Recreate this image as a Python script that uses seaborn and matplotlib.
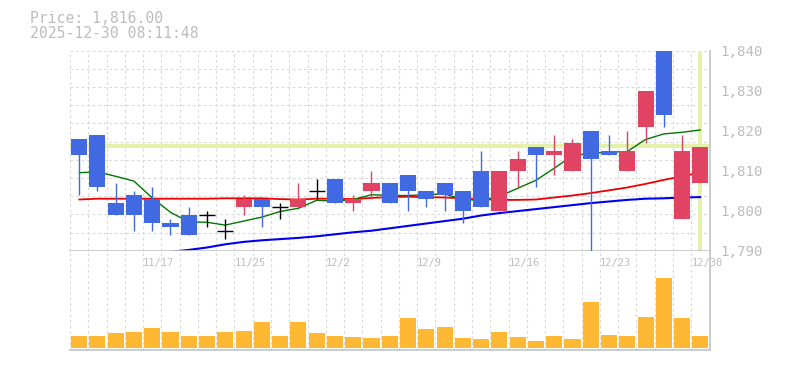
import numpy as np
import pandas as pd
import matplotlib
matplotlib.use("Agg")
import matplotlib.pyplot as plt
import seaborn as sns

# data (35 trading days, 11/11 .. 12/30)
dates = ['11/11', '11/12', '11/13', '11/14', '11/17', '11/18', '11/19', '11/20', '11/21',
         '11/25', '11/26', '11/27', '11/28', '12/1', '12/2', '12/3', '12/4', '12/5',
         '12/8', '12/9', '12/10', '12/11', '12/12', '12/15', '12/16', '12/17', '12/18',
         '12/19', '12/22', '12/23', '12/24', '12/25', '12/26', '12/29', '12/30']
opens = [1818, 1819, 1802, 1804, 1803, 1797, 1799, 1799, 1795, 1801, 1803, 1801, 1801, 1805,
         1808, 1802, 1805, 1807, 1809, 1805, 1807, 1805, 1810, 1800, 1810, 1816, 1814, 1810,
         1820, 1815, 1810, 1821, 1845, 1798, 1807]
highs = [1818, 1819, 1807, 1805, 1806, 1798, 1801, 1800, 1798, 1804, 1803, 1802, 1807, 1808,
         1808, 1804, 1810, 1807, 1809, 1805, 1807, 1805, 1815, 1810, 1815, 1816, 1819, 1818,
         1820, 1819, 1820, 1830, 1845, 1819, 1816]
lows = [1804, 1805, 1799, 1795, 1795, 1794, 1794, 1796, 1793, 1799, 1796, 1798, 1801, 1803,
        1802, 1800, 1803, 1802, 1800, 1801, 1800, 1797, 1801, 1800, 1806, 1806, 1809, 1810,
        1788, 1814, 1810, 1817, 1821, 1798, 1807]
closes = [1814, 1806, 1799, 1799, 1797, 1796, 1794, 1799, 1795, 1803, 1801, 1801, 1803, 1805,
          1802, 1803, 1807, 1802, 1805, 1803, 1804, 1800, 1801, 1810, 1813, 1814, 1815, 1817,
          1813, 1814, 1815, 1830, 1824, 1815, 1816]
volume = [36, 36, 45, 48, 60, 48, 36, 36, 48, 51, 78, 36, 78, 45, 36, 33, 30, 36,
          90, 57, 63, 30, 27, 48, 33, 21, 36, 27, 138, 39, 36, 93, 213, 90, 36]
ma5 = [1809.5, 1809.7, 1808.6, 1807.4, 1803.2, 1799.6, 1797.2, 1797.1, 1796.4, 1797.4,
       1798.4, 1799.8, 1800.6, 1802.6, 1802.4, 1802.8, 1804.0, 1803.8, 1803.8, 1804.0,
       1804.2, 1802.8, 1802.6, 1803.6, 1805.6, 1807.6, 1810.6, 1813.8, 1814.4, 1814.6,
       1814.8, 1817.8, 1819.2, 1819.6, 1820.2]
ma25 = [1802.8, 1803.0, 1803.0, 1803.0, 1803.0, 1803.0, 1803.0, 1803.0, 1803.1, 1803.1,
        1803.1, 1802.9, 1802.8, 1803.0, 1803.0, 1802.9, 1803.2, 1803.4, 1803.5, 1803.4,
        1803.3, 1803.1, 1802.9, 1802.7, 1802.7, 1802.8, 1803.3, 1803.8, 1804.4, 1805.1,
        1805.8, 1806.7, 1807.7, 1808.6, 1809.5]
ma75 = [np.nan, np.nan, np.nan, np.nan, np.nan, 1789.7, 1790.2, 1790.8, 1791.6, 1792.2,
        1792.6, 1792.9, 1793.2, 1793.6, 1794.1, 1794.6, 1795.0, 1795.6, 1796.2, 1796.8,
        1797.4, 1798.0, 1798.8, 1799.4, 1799.9, 1800.4, 1800.9, 1801.4, 1801.9, 1802.3,
        1802.7, 1803.0, 1803.1, 1803.3, 1803.4]
label_days = ['11/17', '11/25', '12/2', '12/9', '12/16', '12/23', '12/30']
price_now = 1816.3
price_text = 'Price: 1,816.00'
time_text = '2025-12-30 08:11:48'

df = pd.DataFrame({'date': dates, 'open': opens, 'high': highs, 'low': lows,
                   'close': closes, 'volume': volume, 'ma5': ma5, 'ma25': ma25, 'ma75': ma75})
df['x'] = np.arange(len(df))

sns.set_style('white')
plt.rcParams['font.family'] = ['DejaVu Sans Mono']

UP = '#e04462'
DOWN = '#4169e1'
GRID = '#d9d9d9'
TXT = '#bdbdbd'
HL = '#e3f2a8'

fig = plt.figure(figsize=(7.85, 3.70), dpi=100)
ax = fig.add_axes([70 / 785, 1 - 250.7 / 370, 639.5 / 785, 200 / 370])
axv = fig.add_axes([70 / 785, 1 - 350 / 370, 639.5 / 785, 99.3 / 370])

n = len(df)
xmin, xmax = -0.5, n - 0.5
ylo, yhi = 1790, 1840

# grid
for a in (ax, axv):
    for gx in np.arange(n) - 0.5:
        a.axvline(gx, color=GRID, lw=0.8, ls=(0, (2.5, 2.5)), zorder=0)
for gy in np.linspace(ylo, yhi, 12):
    ax.axhline(gy, color=GRID, lw=0.8, ls=(0, (2.5, 2.5)), zorder=0)

# current price / today markers
ax.axhline(price_now, color=HL, lw=2.8, zorder=1)
ax.axvline(n - 1, color=HL, lw=2.8, zorder=1)

# moving averages
sns.lineplot(data=df, x='x', y='ma75', ax=ax, color='#0000ee', lw=1.5, zorder=2)
sns.lineplot(data=df, x='x', y='ma25', ax=ax, color='#ee0000', lw=1.3, zorder=2)
sns.lineplot(data=df, x='x', y='ma5', ax=ax, color='#007700', lw=1.0, zorder=2)

# candles
w = 0.88
for _, r in df.iterrows():
    if r['open'] == r['close']:
        ax.vlines(r['x'], r['low'], r['high'], color='black', lw=1.0, zorder=3)
        ax.hlines(r['close'], r['x'] - w / 2, r['x'] + w / 2, color='black', lw=1.0, zorder=3)
        continue
    c = UP if r['close'] > r['open'] else DOWN
    ax.vlines(r['x'], r['low'], r['high'], color=c, lw=1.0, zorder=3)
    ax.bar(r['x'], abs(r['close'] - r['open']), bottom=min(r['open'], r['close']),
           width=w, color=c, linewidth=0, zorder=4)

ax.set_xlim(xmin, xmax)
ax.set_ylim(ylo, yhi)
ax.set_xlabel('')
ax.set_ylabel('')
ax.set_xticks([])
ax.yaxis.tick_right()
ax.set_yticks([1790, 1800, 1810, 1820, 1830, 1840])
ax.set_yticklabels(['1,790', '1,800', '1,810', '1,820', '1,830', '1,840'])
ax.tick_params(axis='y', length=0, pad=8, labelsize=10.2, labelcolor=TXT)
for s in ('left', 'top'):
    ax.spines[s].set_visible(False)
for s in ('right', 'bottom'):
    ax.spines[s].set_color('#c4c4c4')
    ax.spines[s].set_linewidth(1.2)

# volume
axv.bar(df['x'], df['volume'], width=w, color='#ffb833', linewidth=0, zorder=2)
axv.set_xlim(xmin, xmax)
axv.set_ylim(-6, 294)
axv.set_xticks([])
axv.set_yticks([])
for s in ('left', 'top'):
    axv.spines[s].set_visible(False)
for s in ('right', 'bottom'):
    axv.spines[s].set_color('#c4c4c4')
    axv.spines[s].set_linewidth(1.2)
for d in label_days:
    i = dates.index(d)
    axv.text(i - 0.5, 0.88, d, transform=axv.get_xaxis_transform(), ha='left', va='center',
             fontsize=7.5, color=TXT, clip_on=False, zorder=5)

fig.text(30 / 785, 1 - 22.7 / 370, price_text, fontsize=10.6, color=TXT, va='baseline')
fig.text(30 / 785, 1 - 37.7 / 370, time_text, fontsize=10.6, color=TXT, va='baseline')

fig.savefig('out.png', dpi=100, facecolor='white')
